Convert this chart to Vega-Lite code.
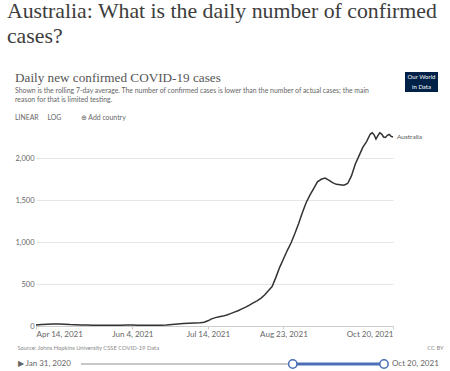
{
  "$schema": "https://vega.github.io/schema/vega-lite/v6.json",
  "background": "white",
  "padding": {"left": 6, "top": 1, "right": 0, "bottom": 0},
  "config": {"view": {"stroke": null}, "font": "Lato"},
  "title": {
    "text": ["Australia: What is the daily number of confirmed", "cases?"],
    "anchor": "start", "frame": "bounds", "dx": -8,
    "font": "Liberation Serif", "fontSize": 21.8, "fontWeight": "normal",
    "color": "#3d3d3d", "lineHeight": 25, "offset": 23
  },
  "spacing": 7,
  "vconcat": [
    {
      "spacing": 10,
      "hconcat": [
        {
          "width": 359, "height": 0,
          "title": {
            "text": "Daily new confirmed COVID-19 cases",
            "subtitle": [
              "Shown is the rolling 7-day average. The number of confirmed cases is lower than the number of actual cases; the main",
              "reason for that is limited testing.",
              "\u2800",
              "\u00a0LINEAR\u00a0\u00a0\u00a0\u00a0\u00a0LOG\u00a0\u00a0\u00a0\u00a0\u00a0\u00a0\u00a0\u00a0\u00a0\u00a0\u00a0⊕ Add country"
            ],
            "orient": "bottom", "anchor": "start", "frame": "group", "dx": -21,
            "font": "Liberation Serif", "fontSize": 13.2, "fontWeight": "normal", "color": "#555555",
            "subtitleFont": "Lato", "subtitleFontSize": 6.9, "subtitleColor": "#666666",
            "subtitleLineHeight": 9, "subtitlePadding": 3, "offset": -20
          },
          "data": {"values": [{}]},
          "mark": {"type": "point", "opacity": 0}
        },
        {
          "width": 33, "height": 20,
          "view": {"fill": "#002147", "stroke": null},
          "data": {"values": [{"line": "Our World", "row": 1}, {"line": "in Data", "row": 2}]},
          "mark": {"type": "text", "color": "white", "fontSize": 6, "font": "Lato"},
          "encoding": {
            "y": {"field": "row", "type": "ordinal", "axis": null},
            "text": {"field": "line"}
          }
        }
      ]
    },
    {
      "width": 357, "height": 197,
      "data": {"values": [
        {"date": "2021/04/14", "cases": 13}, {"date": "2021/04/17", "cases": 17}, {"date": "2021/04/20", "cases": 21},
        {"date": "2021/04/23", "cases": 24}, {"date": "2021/04/26", "cases": 24}, {"date": "2021/04/29", "cases": 22},
        {"date": "2021/05/02", "cases": 17}, {"date": "2021/05/05", "cases": 14}, {"date": "2021/05/08", "cases": 12},
        {"date": "2021/05/11", "cases": 11}, {"date": "2021/05/14", "cases": 10}, {"date": "2021/05/17", "cases": 9},
        {"date": "2021/05/20", "cases": 8}, {"date": "2021/05/23", "cases": 8}, {"date": "2021/05/26", "cases": 9},
        {"date": "2021/05/29", "cases": 10}, {"date": "2021/06/01", "cases": 11}, {"date": "2021/06/04", "cases": 11},
        {"date": "2021/06/07", "cases": 10}, {"date": "2021/06/10", "cases": 9}, {"date": "2021/06/13", "cases": 8},
        {"date": "2021/06/16", "cases": 8}, {"date": "2021/06/19", "cases": 10}, {"date": "2021/06/22", "cases": 12},
        {"date": "2021/06/25", "cases": 18}, {"date": "2021/06/28", "cases": 25}, {"date": "2021/07/01", "cases": 31},
        {"date": "2021/07/04", "cases": 34}, {"date": "2021/07/07", "cases": 36}, {"date": "2021/07/10", "cases": 38},
        {"date": "2021/07/12", "cases": 45}, {"date": "2021/07/14", "cases": 62}, {"date": "2021/07/16", "cases": 85},
        {"date": "2021/07/18", "cases": 100}, {"date": "2021/07/20", "cases": 110}, {"date": "2021/07/22", "cases": 118},
        {"date": "2021/07/24", "cases": 132}, {"date": "2021/07/26", "cases": 148}, {"date": "2021/07/28", "cases": 165},
        {"date": "2021/07/30", "cases": 182}, {"date": "2021/08/01", "cases": 205}, {"date": "2021/08/03", "cases": 225},
        {"date": "2021/08/05", "cases": 250}, {"date": "2021/08/07", "cases": 275}, {"date": "2021/08/09", "cases": 300},
        {"date": "2021/08/11", "cases": 330}, {"date": "2021/08/13", "cases": 370}, {"date": "2021/08/15", "cases": 420},
        {"date": "2021/08/17", "cases": 470}, {"date": "2021/08/19", "cases": 580}, {"date": "2021/08/21", "cases": 700},
        {"date": "2021/08/23", "cases": 800}, {"date": "2021/08/25", "cases": 900}, {"date": "2021/08/27", "cases": 990},
        {"date": "2021/08/29", "cases": 1100}, {"date": "2021/08/31", "cases": 1220}, {"date": "2021/09/02", "cases": 1350},
        {"date": "2021/09/04", "cases": 1470}, {"date": "2021/09/06", "cases": 1560}, {"date": "2021/09/08", "cases": 1640},
        {"date": "2021/09/10", "cases": 1720}, {"date": "2021/09/12", "cases": 1750}, {"date": "2021/09/14", "cases": 1765},
        {"date": "2021/09/16", "cases": 1740}, {"date": "2021/09/18", "cases": 1710}, {"date": "2021/09/20", "cases": 1690},
        {"date": "2021/09/22", "cases": 1685}, {"date": "2021/09/24", "cases": 1680}, {"date": "2021/09/26", "cases": 1700},
        {"date": "2021/09/28", "cases": 1790}, {"date": "2021/09/30", "cases": 1930}, {"date": "2021/10/02", "cases": 2030},
        {"date": "2021/10/04", "cases": 2130}, {"date": "2021/10/06", "cases": 2200}, {"date": "2021/10/08", "cases": 2290},
        {"date": "2021/10/09", "cases": 2305}, {"date": "2021/10/10", "cases": 2280}, {"date": "2021/10/11", "cases": 2230},
        {"date": "2021/10/12", "cases": 2270}, {"date": "2021/10/13", "cases": 2305}, {"date": "2021/10/14", "cases": 2290},
        {"date": "2021/10/15", "cases": 2255}, {"date": "2021/10/16", "cases": 2250}, {"date": "2021/10/17", "cases": 2275},
        {"date": "2021/10/18", "cases": 2285}, {"date": "2021/10/19", "cases": 2262}, {"date": "2021/10/20", "cases": 2255}
      ]},
      "encoding": {
        "x": {
          "field": "date", "type": "temporal",
          "scale": {"domain": [{"year": 2021, "month": 4, "date": 14}, {"year": 2021, "month": 10, "date": 20}]},
          "axis": {
            "values": [
              {"year": 2021, "month": 4, "date": 14}, {"year": 2021, "month": 6, "date": 4},
              {"year": 2021, "month": 7, "date": 14}, {"year": 2021, "month": 8, "date": 23},
              {"year": 2021, "month": 10, "date": 20}
            ],
            "format": "%b %-d, %Y", "labelFlush": true, "labelFontSize": 8, "labelColor": "#666666",
            "labelFont": "Lato", "tickColor": "#cccccc", "tickSize": 3, "domainColor": "#cccccc",
            "grid": false, "labelPadding": 1, "title": null
          }
        },
        "y": {
          "field": "cases", "type": "quantitative",
          "scale": {"domain": [0, 2350], "nice": false},
          "axis": {
            "values": [0, 500, 1000, 1500, 2000], "format": ",.0f", "domain": false, "ticks": false,
            "labelFontSize": 7.5, "labelColor": "#666666", "labelFont": "Lato",
            "gridColor": "#e6e6e6", "labelPadding": 2, "title": null
          }
        }
      },
      "layer": [
        {"mark": {"type": "line", "color": "#333333", "strokeWidth": 1.5}},
        {
          "transform": [{"filter": {"field": "date", "equal": {"year": 2021, "month": 10, "date": 20}}}],
          "mark": {"type": "text", "align": "left", "dx": 4, "fontSize": 6.5, "color": "#555555", "font": "Lato"},
          "encoding": {"text": {"value": "Australia"}}
        }
      ]
    },
    {
      "width": 348, "height": 10,
      "title": {
        "text": "Source: Johns Hopkins University CSSE COVID-19 Data\u2003\u2003\u2003\u2003\u2003\u2003\u2003\u2003\u2003\u2003\u2003\u2003\u2003\u2003\u2003\u2003\u2003\u2003\u2003\u2003\u2003\u2003\u2003\u2003\u2003\u2003\u2003\u2003\u2003\u2003\u2003\u2003\u2003\u2003\u2003\u2003\u2003\u2003\u2003\u2003\u2003\u2003\u2003\u2003\u2003\u2003\u2003\u2003\u2003\u2003\u2003\u2003\u2003\u2003\u2003\u2003\u2003\u2003\u2003\u2003\u2003\u00a0\u00a0CC BY",
        "anchor": "start", "frame": "bounds", "font": "Lato", "fontSize": 5.8,
        "fontWeight": "normal", "color": "#888888", "offset": 6
      },
      "layer": [
        {
          "data": {"values": [{"start": "2020/01/31", "end": "2021/04/14"}]},
          "mark": {"type": "rule", "color": "#b5b5b5", "strokeWidth": 1.5},
          "encoding": {
            "x": {"field": "start", "type": "temporal", "axis": null, "scale": {"domain": [{"year": 2019, "month": 10, "date": 30}, {"year": 2021, "month": 10, "date": 20}]}},
            "x2": {"field": "end"}
          }
        },
        {
          "data": {"values": [{"start": "2021/04/14", "end": "2021/10/20"}]},
          "mark": {"type": "rule", "color": "#4a6fb5", "strokeWidth": 3},
          "encoding": {
            "x": {"field": "start", "type": "temporal"},
            "x2": {"field": "end"}
          }
        },
        {
          "data": {"values": [{"day": "2021/04/14"}, {"day": "2021/10/20"}]},
          "mark": {"type": "point", "filled": true, "fill": "white", "stroke": "#4a6fb5", "strokeWidth": 1.5, "size": 70, "opacity": 1},
          "encoding": {"x": {"field": "day", "type": "temporal"}}
        },
        {
          "data": {"values": [{"day": "2020/01/31", "label": "▶ Jan 31, 2020"}]},
          "mark": {"type": "text", "align": "right", "dx": -10, "fontSize": 8, "color": "#666666", "font": "Lato"},
          "encoding": {"x": {"field": "day", "type": "temporal"}, "text": {"field": "label"}}
        },
        {
          "data": {"values": [{"day": "2021/10/20", "label": "Oct 20, 2021"}]},
          "mark": {"type": "text", "align": "left", "dx": 8, "fontSize": 8, "color": "#666666", "font": "Lato"},
          "encoding": {"x": {"field": "day", "type": "temporal"}, "text": {"field": "label"}}
        }
      ]
    }
  ]
}
